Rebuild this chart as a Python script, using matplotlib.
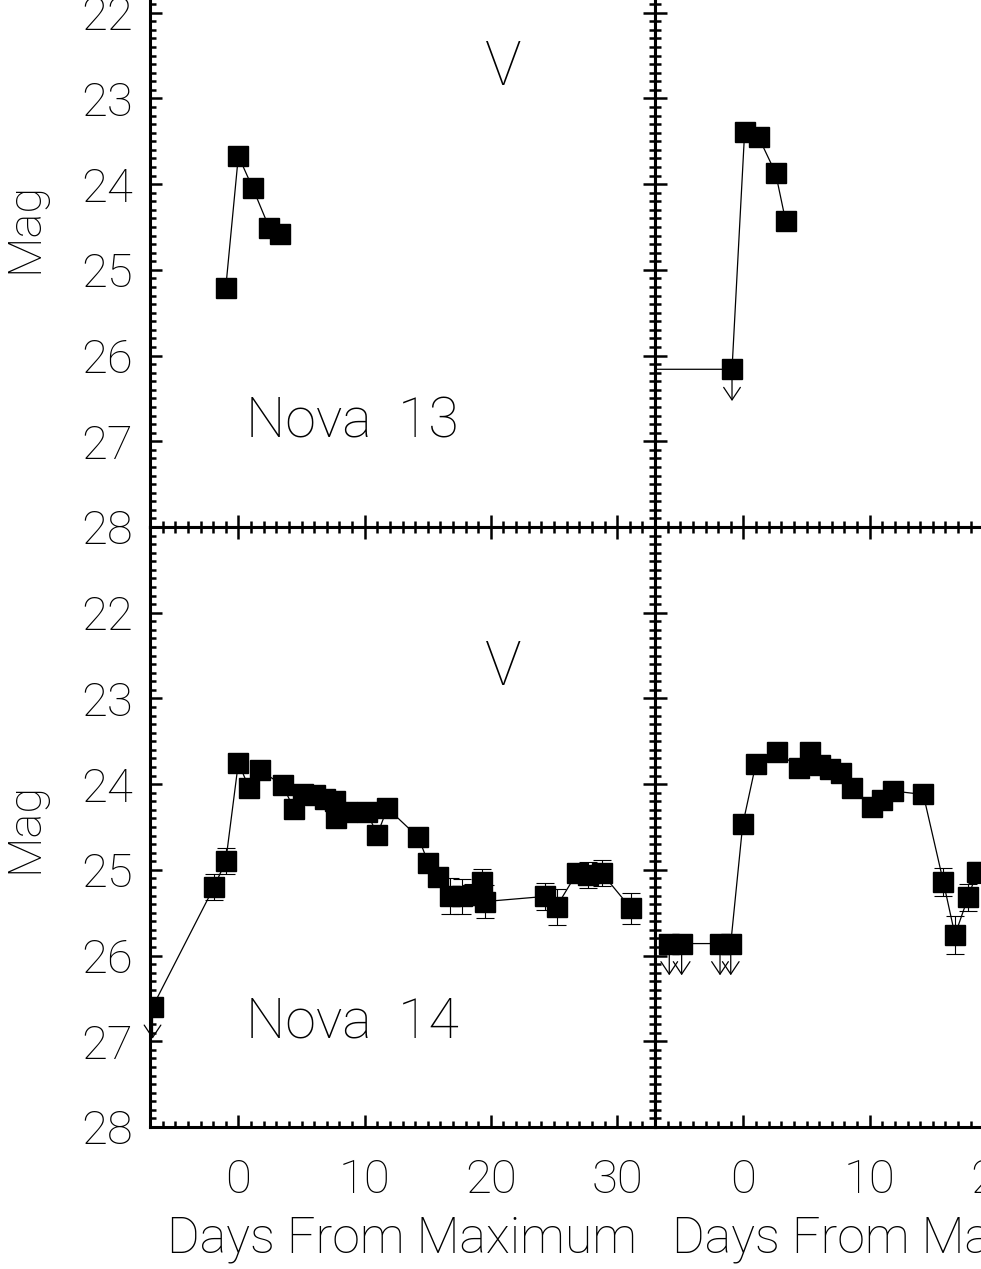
import matplotlib
matplotlib.use('Agg')
import matplotlib.pyplot as plt
from matplotlib.ticker import MultipleLocator

plt.rcParams['font.family'] = ['Roboto', 'DejaVu Sans']
plt.rcParams['font.weight'] = 'light'
plt.rcParams['axes.labelweight'] = 'light'

# Nova 13, V band (left top)
n13_days = [-1.0, 0.0, 1.15, 2.45, 3.3]
n13_mag = [25.21, 23.67, 24.05, 24.51, 24.58]

# right top panel (upper limit first, then detections)
r13_days = [-9.0, -0.9, 0.1, 1.2, 2.55, 3.35]
r13_mag = [26.16, 26.16, 23.39, 23.45, 23.87, 24.43]
r13_lim = [True, True, False, False, False, False]

# Nova 14, V band (left bottom)
n14_days = [-6.8, -1.93, -1.0, 0.0, 0.87, 1.71, 3.5, 4.4, 5.15, 6.07, 6.86,
            7.65, 7.7, 8.58, 10.16, 11.0, 11.8, 14.25, 15.05, 15.84, 16.76,
            17.7, 18.6, 19.27, 19.5, 24.3, 25.2, 26.8, 27.7, 28.8, 31.1]
n14_mag = [26.6, 25.2, 24.9, 23.75, 24.05, 23.84, 24.01, 24.29, 24.11, 24.13,
           24.17, 24.2, 24.4, 24.32, 24.32, 24.59, 24.28, 24.62, 24.92, 25.08,
           25.31, 25.31, 25.29, 25.14, 25.37, 25.31, 25.43, 25.04, 25.06,
           25.04, 25.45]
n14_err = [0.0, 0.15, 0.15, 0.05, 0.05, 0.05, 0.05, 0.05, 0.05, 0.05, 0.05,
           0.05, 0.05, 0.05, 0.05, 0.05, 0.05, 0.05, 0.05, 0.05, 0.21, 0.2,
           0.12, 0.15, 0.19, 0.16, 0.21, 0.1, 0.15, 0.15, 0.18]
n14_lim = [True] + [False] * 30

# right bottom panel
r14_days = [-5.87, -4.89, -1.85, -1.0, -0.05, 0.98, 2.64, 4.41, 5.28, 6.07,
            6.86, 7.71, 8.58, 10.16, 11.0, 11.83, 14.25, 15.84, 16.76, 17.8,
            18.5]
r14_mag = [25.86, 25.86, 25.86, 25.86, 24.47, 23.77, 23.62, 23.81, 23.62,
           23.78, 23.82, 23.87, 24.05, 24.27, 24.19, 24.08, 24.12, 25.14,
           25.76, 25.32, 25.03]
r14_err = [0.0, 0.0, 0.0, 0.0, 0.05, 0.05, 0.05, 0.05, 0.05, 0.05, 0.05,
           0.05, 0.05, 0.05, 0.05, 0.05, 0.05, 0.16, 0.22, 0.16, 0.12]
r14_lim = [True, True, True, True] + [False] * 17

yticks = [21, 22, 23, 24, 25, 26, 27, 28]
ytick_labels = ['', '22', '23', '24', '25', '26', '27', '28']
xticks = [0, 10, 20, 30]

W, H = 981, 1269
fig = plt.figure(figsize=(W / 100, H / 100), dpi=100)


def panel(x0, y0):
    # pixel box -> figure fraction, panels are 505 x 600 px
    return fig.add_axes([x0 / W, 1 - (y0 + 600) / H, 505 / W, 600 / H])


def style(ax, ylab, xlab):
    ax.set_xlim(-7, 33)
    ax.set_ylim(28, 21)
    ax.set_yticks(yticks)
    ax.set_xticks(xticks)
    ax.xaxis.set_minor_locator(MultipleLocator(1))
    ax.yaxis.set_minor_locator(MultipleLocator(0.1))
    ax.tick_params(which='both', direction='in', top=True, right=True,
                   width=1.8, labelsize=34)
    ax.tick_params(which='major', length=8.5)
    ax.tick_params(which='minor', length=4.3)
    ax.tick_params(axis='y', pad=12)
    ax.tick_params(axis='x', pad=22)
    for s in ax.spines.values():
        s.set_linewidth(2.2)
    if ylab:
        ax.set_yticklabels(ytick_labels)
        ax.set_ylabel('Mag', fontsize=34, fontweight='light')
        ax.yaxis.set_label_coords(-0.205, 0.5)
    else:
        ax.set_yticklabels([])
    if xlab:
        ax.set_xticklabels([str(t) for t in xticks])
        ax.set_xlabel('Days From Maximum', fontsize=36, fontweight='light',
                      labelpad=10)
    else:
        ax.set_xticklabels([])


def draw(ax, days, mag, err=None, lim=None):
    ax.plot(days, mag, '-', color='k', lw=0.9, zorder=2)
    if err is not None:
        for d, m, e, l in zip(days, mag, err, lim):
            if not l and e > 0:
                ax.errorbar(d, m, yerr=e, fmt='none', ecolor='k', elinewidth=0.8,
                            capsize=6.5, capthick=0.8, zorder=2)
    if lim is not None:
        for d, m, l in zip(days, mag, lim):
            if l:
                ax.annotate('', xy=(d, m + 0.37), xytext=(d, m),
                            arrowprops=dict(arrowstyle='->,head_length=0.45,head_width=0.3',
                                            color='k', lw=0.9, mutation_scale=20,
                                            shrinkA=0, shrinkB=0), zorder=2)
    ax.plot(days, mag, 's', color='k', markersize=15, zorder=3)


# top left: Nova 13
ax1 = panel(150, -73)
draw(ax1, n13_days, n13_mag)
ax1.text(21, 22.65, 'V', fontsize=44, ha='center', va='center')
ax1.text(0.6, 26.78, 'Nova  13', fontsize=40, ha='left', va='center')
style(ax1, True, False)

# top right
ax2 = panel(655, -73)
draw(ax2, r13_days, r13_mag, lim=r13_lim)
style(ax2, False, False)

# bottom left: Nova 14
ax3 = panel(150, 527)
draw(ax3, n14_days, n14_mag, n14_err, n14_lim)
ax3.text(21, 22.65, 'V', fontsize=44, ha='center', va='center')
ax3.text(0.6, 26.78, 'Nova  14', fontsize=40, ha='left', va='center')
style(ax3, True, True)

# bottom right
ax4 = panel(655, 527)
draw(ax4, r14_days, r14_mag, r14_err, r14_lim)
style(ax4, False, True)

fig.savefig('out.png', dpi=100)
